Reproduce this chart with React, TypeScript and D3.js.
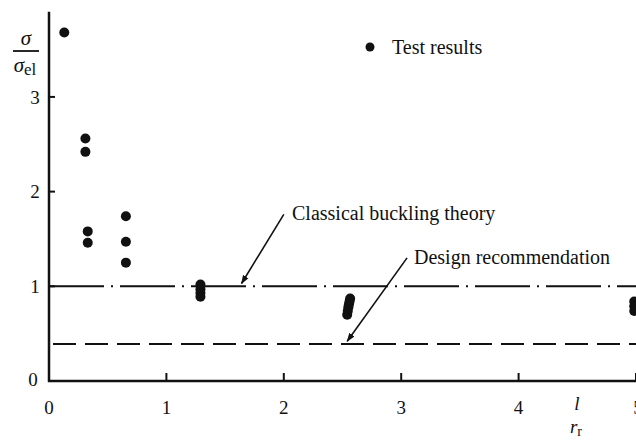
import React from "react";
import * as d3 from "d3";

// Test results: slenderness ratio l/r_r and normalised stress σ/σel
const testX = [0.13, 0.31, 0.31, 0.33, 0.33, 0.655, 0.655, 0.655,
  1.29, 1.29, 1.29, 1.29,
  2.54, 2.545, 2.55, 2.555, 2.56, 2.565,
  4.985, 4.985, 4.985];
const testY = [3.68, 2.56, 2.42, 1.58, 1.46, 1.74, 1.47, 1.25,
  1.02, 0.97, 0.93, 0.89,
  0.70, 0.74, 0.78, 0.81, 0.84, 0.87,
  0.74, 0.79, 0.84];

const xTicks = [0, 1, 2, 3, 4, 5];
const yTicks = [0, 1, 2, 3];

const classicalLevel = 1.0;
const designLevel = 0.39;

// Annotation leaders: [from x, from y, to x, to y] in data units
const classicalArrow = [2.00, 1.76, 1.64, 1.03];
const designArrow = [3.05, 1.30, 2.54, 0.42];

const W = 636;
const H = 441;
const FONT = "'Liberation Serif', 'Times New Roman', serif";

export default function App() {
  const x = d3.scaleLinear().domain([0, 5]).range([49, 636]);
  const y = d3.scaleLinear().domain([0, 3.9]).range([381, 11.7]);

  const x0 = x(0);
  const y0 = y(0);
  const ink = "#111";

  return (
    <svg width={W} height={H} style={{ position: "absolute", left: 0, top: 0, background: "#fff", fontFamily: FONT }}>
      <defs>
        <marker id="arrowHead" viewBox="0 0 10 10" refX="9" refY="5" markerWidth="9" markerHeight="9"
          orient="auto" markerUnits="userSpaceOnUse">
          <path d="M0,1.5 L10,5 L0,8.5 Z" fill={ink} />
        </marker>
      </defs>

      {/* reference levels */}
      <line x1={x0} x2={W} y1={y(classicalLevel)} y2={y(classicalLevel)} stroke={ink} strokeWidth={2}
        strokeDasharray="55,7,2,7" />
      <line x1={x0 + 4} x2={W} y1={y(designLevel)} y2={y(designLevel)} stroke={ink} strokeWidth={2}
        strokeDasharray="23,9" />

      {/* axes */}
      <line x1={x0} x2={x0} y1={y(3.9)} y2={y0 + 1} stroke={ink} strokeWidth={2.5} />
      <line x1={x0 - 1} x2={W} y1={y0} y2={y0} stroke={ink} strokeWidth={2.5} />
      {yTicks.filter(t => t > 0).map(t => (
        <g key={"yt" + t}>
          <line x1={x0} x2={x0 + 6} y1={y(t)} y2={y(t)} stroke={ink} strokeWidth={2} />
          <text x={x0 - 14} y={y(t)} dy="0.35em" fontSize={19} textAnchor="middle" fill={ink}>{t}</text>
        </g>
      ))}
      <text x={x0 - 16} y={y0} dy="0.25em" fontSize={19} textAnchor="middle" fill={ink}>0</text>
      {xTicks.filter(t => t > 0).map(t => (
        <line key={"xt" + t} x1={x(t)} x2={x(t)} y1={y0} y2={y0 - 8} stroke={ink} strokeWidth={2} />
      ))}
      {xTicks.map(t => (
        <text key={"xl" + t} x={t === 5 ? x(t) + 2 : x(t)} y={y0 + 33} fontSize={19} textAnchor="middle" fill={ink}>{t}</text>
      ))}

      {/* axis titles */}
      <text x={26} y={45} fontSize={21} fontStyle="italic" textAnchor="middle" fill={ink}>σ</text>
      <line x1={13} x2={39} y1={51} y2={51} stroke={ink} strokeWidth={1.8} />
      <text x={25} y={72} fontSize={21} textAnchor="middle" fill={ink}>
        <tspan fontStyle="italic">σ</tspan><tspan dy="3" fontSize={17}>el</tspan>
      </text>
      <text x={577} y={410} fontSize={19} fontStyle="italic" textAnchor="middle" fill={ink}>l</text>
      <text x={576} y={433} fontSize={19} fontStyle="italic" textAnchor="middle" fill={ink}>
        r<tspan dy="3" fontSize={14} fontStyle="normal">r</tspan>
      </text>

      {/* test results */}
      {testX.map((v, i) => (
        <circle key={"p" + i} cx={x(v)} cy={y(testY[i])} r={5} fill={ink} />
      ))}

      {/* legend */}
      <circle cx={370} cy={47} r={4.5} fill={ink} />
      <text x={392} y={54} fontSize={20} fill={ink}>Test results</text>

      {/* annotations */}
      <line x1={x(classicalArrow[0])} y1={y(classicalArrow[1])} x2={x(classicalArrow[2])} y2={y(classicalArrow[3])}
        stroke={ink} strokeWidth={1.6} markerEnd="url(#arrowHead)" />
      <text x={292} y={220} fontSize={20} fill={ink}>Classical buckling theory</text>
      <line x1={x(designArrow[0])} y1={y(designArrow[1])} x2={x(designArrow[2])} y2={y(designArrow[3])}
        stroke={ink} strokeWidth={1.6} markerEnd="url(#arrowHead)" />
      <text x={414} y={264} fontSize={20} fill={ink}>Design recommendation</text>
    </svg>
  );
}
